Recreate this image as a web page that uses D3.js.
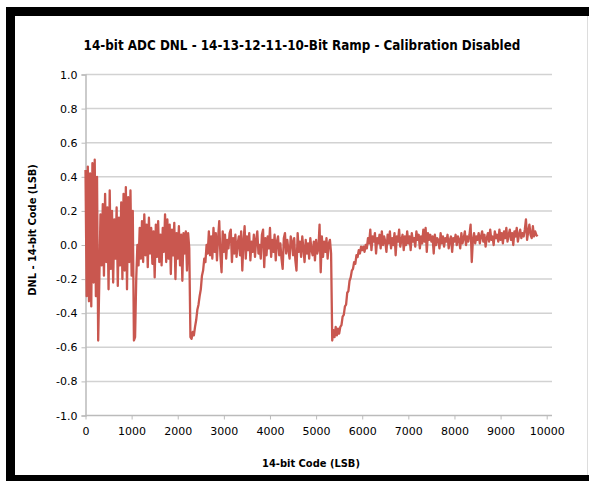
<!DOCTYPE html>
<html>
<head>
<meta charset="utf-8">
<script src="https://cdn.jsdelivr.net/npm/d3@7"></script>
<style>
  body { margin: 0; background: #fff; }
  text { font-family: "DejaVu Sans", Verdana, sans-serif; }
</style>
</head>
<body>
<div id="chart"></div>
<script>
// DNL per code, sampled every 25 codes starting at code 0
var codeStep = 25;
var dnl = [
  0.44, -0.30, 0.46, -0.33, 0.42, -0.36, 0.48, -0.22, 0.50, -0.30, 0.40, -0.56, -0.20, 0.18, -0.12, 0.24, -0.18, 0.30, -0.10, 0.22,
  -0.26, 0.32, -0.14, 0.20, -0.22, 0.15, -0.08, 0.22, -0.24, 0.16, -0.12, 0.25, -0.20, 0.30, -0.15, 0.34, -0.26, 0.28, -0.10, 0.32,
  -0.18, 0.20, -0.56, -0.54, -0.20, 0.00, -0.12, 0.10, -0.08, 0.14, -0.10, 0.18, -0.06, 0.12, -0.13, 0.16, -0.05, 0.10, -0.11, 0.08,
  -0.19, 0.12, -0.07, 0.14, -0.10, 0.06, -0.12, 0.10, -0.04, 0.18, -0.10, 0.15, -0.08, 0.12, -0.17, 0.09, -0.06, 0.13, -0.20, 0.07,
  -0.08, 0.11, -0.12, 0.06, -0.21, 0.07, -0.05, 0.08, -0.15, 0.07, -0.02, -0.54, -0.55, -0.51, -0.53, -0.48, -0.44, -0.38, -0.35, -0.30,
  -0.26, -0.18, -0.15, -0.08, -0.10, 0.00, -0.05, 0.08, -0.06, 0.05, -0.08, 0.10, -0.04, 0.07, -0.09, 0.04, 0.14, -0.06, -0.16, 0.08,
  -0.04, 0.06, -0.08, 0.03, -0.02, 0.07, 0.09, -0.10, 0.04, -0.05, 0.06, -0.07, 0.01, 0.05, -0.06, 0.08, -0.15, 0.02, 0.11, -0.08,
  0.05, -0.03, 0.07, -0.09, 0.02, -0.04, 0.06, -0.07, 0.03, 0.08, -0.05, 0.00, -0.08, 0.06, 0.09, -0.13, 0.04, -0.06, 0.05, -0.02,
  0.10, -0.07, 0.03, -0.04, 0.06, -0.09, 0.02, 0.05, -0.06, 0.01, -0.08, -0.14, 0.04, 0.07, -0.05, 0.03, -0.03, -0.08, 0.05, 0.02,
  -0.06, 0.04, -0.09, -0.15, 0.07, -0.04, 0.02, -0.07, 0.05, -0.02, -0.10, 0.03, -0.05, 0.01, -0.08, 0.04, -0.03, -0.06, 0.02, -0.09,
  0.03, -0.05, -0.02, 0.12, -0.16, 0.05, -0.07, 0.02, -0.04, 0.04, -0.08, 0.01, 0.03, -0.05, -0.56, -0.50, -0.54, -0.48, -0.53, -0.49,
  -0.52, -0.48, -0.47, -0.42, -0.41, -0.36, -0.35, -0.28, -0.27, -0.21, -0.19, -0.15, -0.14, -0.10, -0.11, -0.06, -0.07, -0.03, -0.05, -0.01,
  -0.03, -0.01, -0.04, 0.00, -0.02, 0.04, 0.01, 0.09, -0.03, 0.05, 0.02, 0.07, -0.05, 0.04, 0.01, 0.06, -0.02, 0.08, 0.00, 0.05,
  0.02, -0.04, 0.06, 0.01, 0.08, -0.02, 0.04, 0.00, 0.07, -0.06, 0.05, 0.02, 0.09, -0.01, 0.03, 0.06, -0.03, 0.05, 0.00, 0.08,
  0.01, 0.05, -0.03, 0.07, 0.02, 0.04, -0.01, 0.08, 0.03, 0.06, -0.02, 0.05, 0.01, 0.09, 0.02, 0.10, -0.04, 0.07, 0.03, 0.06,
  0.02, 0.05, -0.05, 0.06, 0.00, 0.04, 0.03, -0.02, 0.07, 0.01, 0.05, -0.01, 0.04, 0.02, 0.06, -0.02, 0.03, 0.05, -0.04, 0.04,
  0.02, 0.06, 0.00, 0.05, 0.03, -0.02, 0.07, 0.01, 0.04, 0.08, 0.00, 0.05, 0.02, 0.06, 0.12, -0.10, 0.03, 0.07, 0.01, 0.05,
  0.03, 0.07, 0.01, 0.05, 0.08, 0.02, 0.06, -0.01, 0.04, 0.07, 0.02, 0.09, 0.03, 0.05, 0.00, 0.08, 0.04, 0.06, 0.02, 0.09,
  0.03, 0.07, 0.01, 0.08, 0.04, 0.10, 0.02, 0.06, 0.09, 0.03, 0.07, 0.00, 0.08, 0.05, 0.10, 0.02, 0.06, 0.09, 0.04, 0.07,
  0.05, 0.09, 0.15, 0.03, 0.08, 0.12, 0.06, 0.04, 0.11, 0.05, 0.08, 0.06, 0.05
];
var xTickValues = [0, 1000, 2000, 3000, 4000, 5000, 6000, 7000, 8000, 9000, 10000];
var yTickValues = [-1.0, -0.8, -0.6, -0.4, -0.2, 0.0, 0.2, 0.4, 0.6, 0.8, 1.0];

var chartTitle = "14-bit ADC DNL - 14-13-12-11-10-Bit Ramp - Calibration Disabled";
var xTitle = "14-bit Code (LSB)";
var yTitle = "DNL - 14-bit Code (LSB)";

var width = 589, height = 481;
var plot = { left: 85.5, right: 552, top: 74.5, bottom: 415.5 };

var svg = d3.select("#chart").append("svg")
    .attr("width", width)
    .attr("height", height);

// window frame
svg.append("rect").attr("x", 6).attr("y", 7).attr("width", width - 6).attr("height", height - 7).attr("fill", "#000");
svg.append("rect").attr("x", 15).attr("y", 16).attr("width", width - 15).attr("height", 459).attr("fill", "#fff");
svg.append("line").attr("x1", 587.5).attr("x2", 587.5).attr("y1", 16).attr("y2", 475).attr("stroke", "#ddd");

var x = d3.scaleLinear().domain([0, 10000]).range([plot.left, 546.7]);
var y = d3.scaleLinear().domain([-1, 1]).range([plot.bottom, plot.top]);

// gridlines
svg.append("g").selectAll("line")
    .data(yTickValues.filter(function (d) { return d > -1; }))
    .enter().append("line")
    .attr("x1", plot.left).attr("x2", plot.right)
    .attr("y1", function (d) { return y(d); })
    .attr("y2", function (d) { return y(d); })
    .attr("stroke", "#d2d2d2")
    .attr("stroke-width", 1.5);

var yAxis = d3.axisLeft(y).tickValues(yTickValues).tickSize(4).tickPadding(4)
    .tickFormat(function (d) { return d.toFixed(1); });
var gy = svg.append("g")
    .attr("transform", "translate(" + plot.left + ",0)")
    .call(yAxis);
gy.select(".domain").attr("stroke", "#bbb").attr("stroke-width", 1.5);
gy.selectAll(".tick line").attr("stroke", "#bbb");
gy.selectAll("text").attr("font-size", 11).attr("fill", "#000");

var xAxis = d3.axisBottom(x).tickValues(xTickValues).tickSize(4).tickPadding(8)
    .tickFormat(d3.format("d"));
var gx = svg.append("g")
    .attr("transform", "translate(0," + plot.bottom + ")")
    .call(xAxis);
gx.select(".domain").attr("d", "M" + plot.left + ",0H" + plot.right)
    .attr("stroke", "#bbb").attr("stroke-width", 1.5);
gx.selectAll(".tick line").attr("stroke", "#bbb");
gx.selectAll("text").attr("font-size", 11).attr("fill", "#000");

// DNL trace
var line = d3.line()
    .x(function (d, i) { return x(i * codeStep); })
    .y(function (d) { return y(d); });

svg.append("path")
    .datum(dnl)
    .attr("fill", "none")
    .attr("stroke", "#c9574f")
    .attr("stroke-width", 2.3)
    .attr("stroke-linejoin", "round")
    .attr("d", line);

// titles
svg.append("text")
    .attr("x", 302).attr("y", 50)
    .attr("text-anchor", "middle")
    .attr("font-size", 13.3)
    .attr("font-weight", "bold")
    .style("font-family", "'DejaVu Sans Condensed', 'DejaVu Sans', sans-serif")
    .text(chartTitle);

svg.append("text")
    .attr("x", 311).attr("y", 467)
    .attr("text-anchor", "middle")
    .attr("font-size", 11)
    .attr("font-weight", "bold")
    .style("font-family", "'DejaVu Sans Condensed', 'DejaVu Sans', sans-serif")
    .text(xTitle);

svg.append("text")
    .attr("transform", "translate(36,230) rotate(-90)")
    .attr("text-anchor", "middle")
    .attr("font-size", 11)
    .attr("font-weight", "bold")
    .style("font-family", "'DejaVu Sans Condensed', 'DejaVu Sans', sans-serif")
    .text(yTitle);
</script>
</body>
</html>
